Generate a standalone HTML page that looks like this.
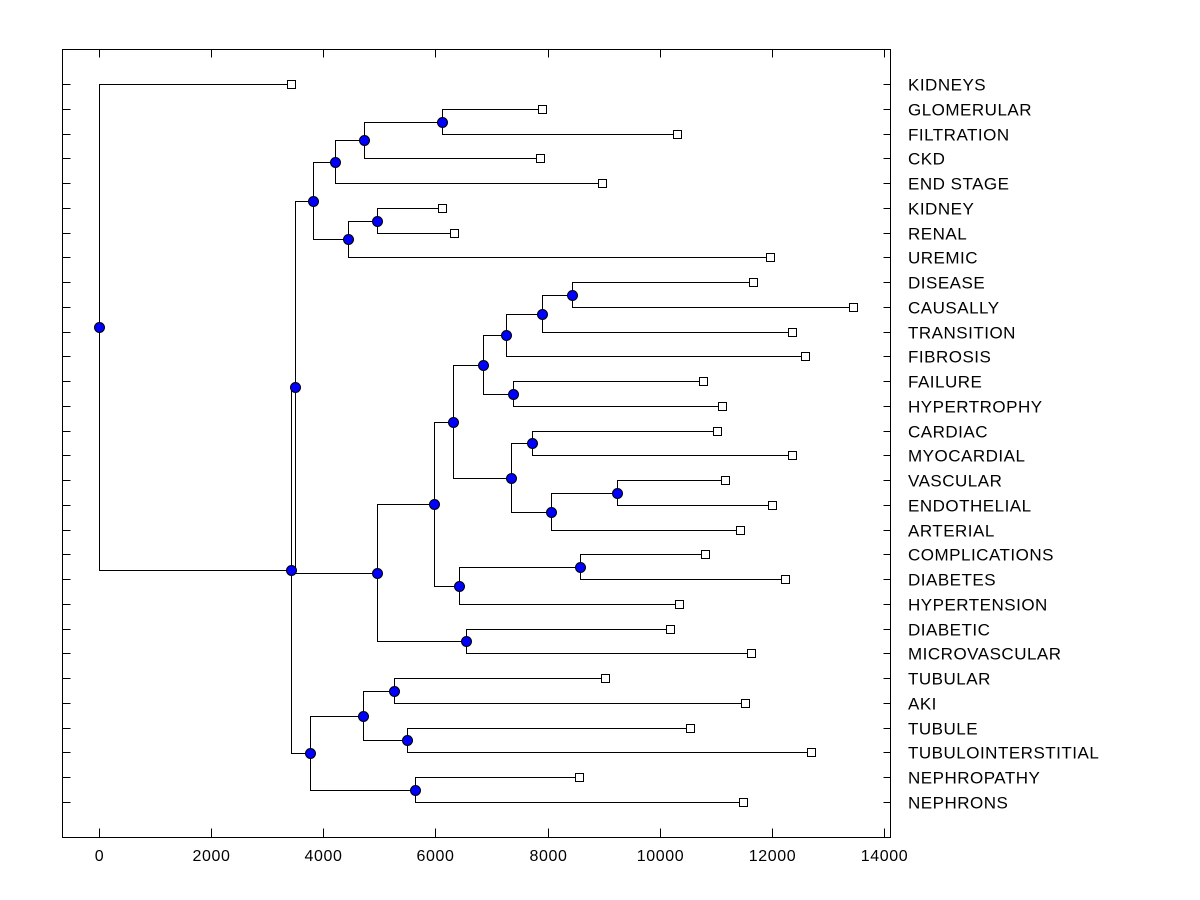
<!DOCTYPE html>
<html><head><meta charset="utf-8"><style>
html,body{margin:0;padding:0;background:#fff;}
svg{display:block;font-family:"Liberation Sans",Arial,sans-serif;}
</style></head><body>
<svg id="chart" width="1200" height="900" viewBox="0 0 1200 900" shape-rendering="crispEdges"></svg>
<script>
const leafLabels=["KIDNEYS","GLOMERULAR","FILTRATION","CKD","END STAGE","KIDNEY","RENAL","UREMIC","DISEASE","CAUSALLY","TRANSITION","FIBROSIS","FAILURE","HYPERTROPHY","CARDIAC","MYOCARDIAL","VASCULAR","ENDOTHELIAL","ARTERIAL","COMPLICATIONS","DIABETES","HYPERTENSION","DIABETIC","MICROVASCULAR","TUBULAR","AKI","TUBULE","TUBULOINTERSTITIAL","NEPHROPATHY","NEPHRONS"];
const leafValues=[3424,7900,10308,7865,8971,6117,6331,11967,11664,13447,12360,12591,10772,11111,11022,12360,11165,12003,11432,10808,12235,10344,10184,11628,9024,11521,10540,12698,8561,11486];
const mergeLeft=[1,30,31,5,33,32,8,36,37,12,38,14,16,42,41,40,19,46,45,22,48,35,24,26,52,28,54,51,0];
const mergeRight=[2,3,4,6,7,34,9,10,11,13,39,15,17,18,43,44,20,21,47,23,49,50,25,27,53,29,55,56,57];
const mergeHeights=[6117,4726,4209,4958,4441,3817,8436,7901,7259,7384,6849,7722,9238,8061,7348,6313,8579,6421,5975,6545,4958,3496,5261,5493,4708,5636,3763,3424,0];
const xTicks=[0,2000,4000,6000,8000,10000,12000,14000];

const svg=document.getElementById('chart');
const NS="http://www.w3.org/2000/svg";
const L=62.5,R=890.5,T=49.5,B=837.5;
const X=v=>Math.round(99+v*(884-99)/14000)+0.5;
const rowY=i=>Math.round(84+i*(802-84)/29)+0.5;
function el(tag,attrs){const e=document.createElementNS(NS,tag);for(const k in attrs)e.setAttribute(k,attrs[k]);svg.appendChild(e);return e;}

const frame=el('rect',{x:L,y:T,width:R-L,height:B-T,fill:'none',stroke:'#000','stroke-width':1});



xTicks.forEach(t=>{
  const tb=el('line',{x1:X(t),x2:X(t),y1:B,y2:B-9,stroke:'#000'});
  
  
  const tt=el('line',{x1:X(t),x2:X(t),y1:T,y2:T+8,stroke:'#000'});
  
  
  const lb=el('text',{x:X(t),y:861,'text-anchor':'middle','font-size':16,'letter-spacing':0.6,fill:'#000','shape-rendering':'auto'});
  lb.textContent=t;
  
  
});

const nodeX=[],nodeY=[];
leafValues.forEach((v,i)=>{nodeX.push(X(v));nodeY.push(rowY(i));});
mergeHeights.forEach((h,k)=>{
  const a=mergeLeft[k],b=mergeRight[k];
  nodeX.push(X(h));nodeY.push(Math.round((nodeY[a]+nodeY[b])/2-0.5)+0.5);
});

leafLabels.forEach((lab,i)=>{
  const y=rowY(i);
  const tl=el('line',{x1:L,x2:L+8,y1:y,y2:y,stroke:'#000'});
  
  
  const tr=el('line',{x1:R-7,x2:R,y1:y,y2:y,stroke:'#000'});
  
  
  const t=el('text',{x:908,y:y+6,'font-size':17,'letter-spacing':0.5,fill:'#000','shape-rendering':'auto'});
  t.textContent=lab;
  
  
});

mergeHeights.forEach((h,k)=>{
  const id=leafValues.length+k;
  const a=mergeLeft[k],b=mergeRight[k];
  const x=nodeX[id];
  const p=el('path',{d:`M${nodeX[a]},${nodeY[a]}H${x}V${nodeY[b]}H${nodeX[b]}`,fill:'none',stroke:'#000','stroke-width':1});
  
  
});

leafValues.forEach((v,i)=>{
  const s=el('rect',{x:nodeX[i]-4,y:nodeY[i]-4,width:8,height:8,fill:'#fff',stroke:'#000'});
  
  
});
mergeHeights.forEach((h,k)=>{
  const id=leafValues.length+k;
  const c=el('circle',{cx:nodeX[id],cy:nodeY[id],r:5,fill:'#0000ff',stroke:'#000','shape-rendering':'auto'});
  
  
});
</script>
</body></html>
